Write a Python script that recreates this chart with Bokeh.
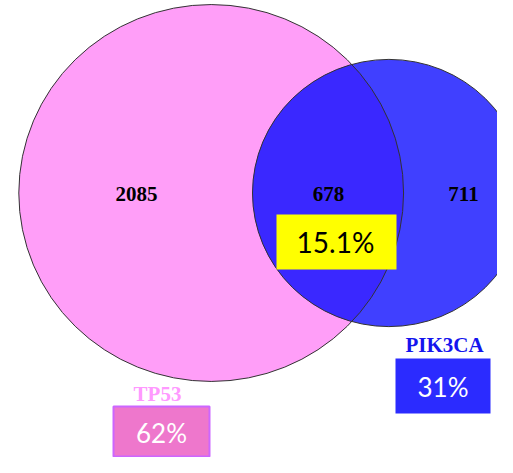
import math
from bokeh.plotting import figure
from bokeh.models import Range1d
from bokeh.core.properties import value
from bokeh.embed import file_html
from bokeh.resources import INLINE

# ---- data ----
set_names = ["TP53", "PIK3CA"]
only_counts = [2085, 711]
overlap_count = 678
set_percent = ["62%", "31%"]
overlap_percent = "15.1%"

set_sizes = [only_counts[0] + overlap_count, only_counts[1] + overlap_count]

# ---- layout (reference pixel space) ----
p = figure(width=497, height=457, output_backend="svg", toolbar_location=None,
           x_range=Range1d(0, 497), y_range=Range1d(457, 0),
           min_border=0, background_fill_color="white", border_fill_color="white")
p.axis.visible = False
p.grid.visible = False
p.outline_line_color = None

kx, ky = 3.66, 3.585  # area-proportional scale
cy = 192.5
w = [2 * kx * math.sqrt(s) for s in set_sizes]
h = [2 * ky * math.sqrt(s) for s in set_sizes]
cx = [18.3 + w[0] / 2, 252.0 + w[1] / 2]

# fills
p.ellipse(x=[cx[0]], y=[cy], width=[w[0]], height=[h[0]],
          fill_color="#FF9EF8", line_color=None)
p.ellipse(x=[cx[1]], y=[cy], width=[w[1]], height=[h[1]],
          fill_color="#4040FF", line_color=None)

# lens (intersection) polygon
def inside(px, py, i):
    return ((px - cx[i]) / (w[i] / 2)) ** 2 + ((py - cy) / (h[i] / 2)) ** 2 <= 1.0

pts = []
for i, j in ((0, 1), (1, 0)):
    for k in range(2000):
        t = 2 * math.pi * k / 2000
        px = cx[i] + w[i] / 2 * math.cos(t)
        py = cy + h[i] / 2 * math.sin(t)
        if inside(px, py, j):
            pts.append((px, py))
mx = sum(q[0] for q in pts) / len(pts)
my = sum(q[1] for q in pts) / len(pts)
pts.sort(key=lambda q: math.atan2(q[1] - my, q[0] - mx))
p.patch(x=[q[0] for q in pts], y=[q[1] for q in pts], fill_color="#3A28FF", line_color=None)

# outlines
p.ellipse(x=cx, y=[cy, cy], width=w, height=h,
          fill_color=None, line_color="#333333", line_width=1)

serif = value("Liberation Serif")
sans = value("Lato")

# region counts
p.text(x=[136, 328, 463], y=[193, 193, 193],
       text=[str(only_counts[0]), str(overlap_count), str(only_counts[1])],
       text_font=serif, text_font_style="bold", text_font_size="21px",
       text_color="black", text_align="center", text_baseline="middle")

# overlap percent box
p.rect(x=[336], y=[241.5], width=[120], height=[55],
       fill_color="#FFFF00", line_color=None)
p.text(x=[335], y=[241], text=[overlap_percent], text_font=sans,
       text_font_size="28px", text_color="black",
       text_align="center", text_baseline="middle")

# set labels
p.text(x=[157, 444], y=[393, 344.5], text=set_names, text_font=serif,
       text_font_style="bold", text_font_size="21px",
       text_color=["#FF99FF", "#1414EE"], text_align="center", text_baseline="middle")

# set percent boxes
p.rect(x=[161, 442.5], y=[431, 385.5], width=[96, 95], height=[50, 55],
       fill_color=["#EE77CC", "#2B2BFF"], line_color=["#CC66FF", None], line_width=2)
p.text(x=[161, 442.5], y=[432.5, 386.5], text=set_percent, text_font=sans,
       text_font_size="26px", text_color="white",
       text_align="center", text_baseline="middle")

open("out.html", "w").write(file_html(p, INLINE))
